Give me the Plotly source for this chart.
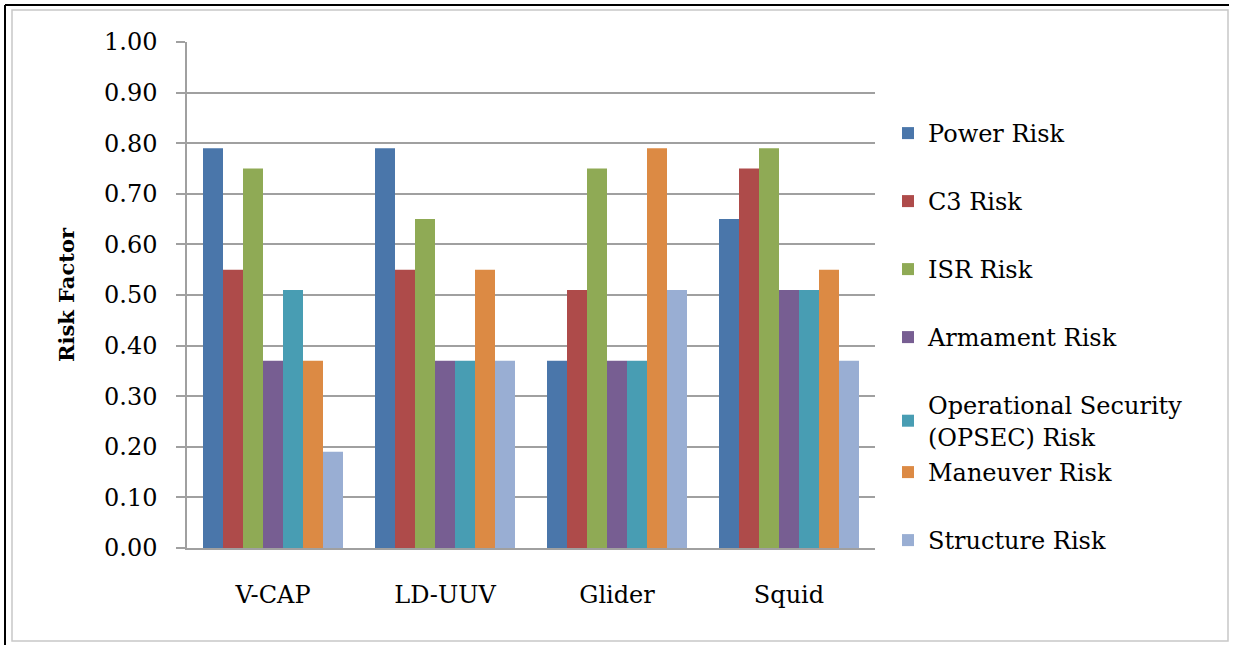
import plotly.graph_objects as go

# vehicles compared and the risk factor of each category
vehicles = ["V-CAP", "LD-UUV", "Glider", "Squid"]
power_risk = [0.79, 0.79, 0.37, 0.65]
c3_risk = [0.55, 0.55, 0.51, 0.75]
isr_risk = [0.75, 0.65, 0.75, 0.79]
armament_risk = [0.37, 0.37, 0.37, 0.51]
opsec_risk = [0.51, 0.37, 0.37, 0.51]
maneuver_risk = [0.37, 0.55, 0.79, 0.55]
structure_risk = [0.19, 0.37, 0.51, 0.37]

y_ticks = [0.0, 0.1, 0.2, 0.3, 0.4, 0.5, 0.6, 0.7, 0.8, 0.9, 1.0]

series = [
    ("Power Risk", power_risk, "#4A76AA"),
    ("C3 Risk", c3_risk, "#AE4B4A"),
    ("ISR Risk", isr_risk, "#8FAA55"),
    ("Armament Risk", armament_risk, "#775E92"),
    ("Operational Security<br>(OPSEC) Risk", opsec_risk, "#489DB3"),
    ("Maneuver Risk", maneuver_risk, "#DC8A44"),
    ("Structure Risk", structure_risk, "#99AED3"),
]
# legend rows (pixel centre of the first text line), Excel-style spacing
legend_rows = [133, 201, 269, 337, 405, 472, 540]

FONT = "DejaVu Serif"

# plot area in pixels: x 187..875, y 42..548
L, R, T, B = 187, 875, 42, 548
W, H = 1233, 645
px = lambda x: (x - L) / (R - L)
py = lambda y: (B - y) / (B - T)

fig = go.Figure()
legends = {}
for i, (name, vals, col) in enumerate(series):
    key = "legend" if i == 0 else f"legend{i + 1}"
    fig.add_trace(go.Bar(x=vehicles, y=vals, name=name, marker_color=col,
                         marker_line_width=0, legend=key))
    legends[key] = dict(x=px(888), xanchor="left", y=py(legend_rows[i] - 22), yanchor="top",
                        font=dict(family=FONT, size=24), itemwidth=30,
                        bgcolor="rgba(0,0,0,0)")

shapes = [
    # light grey inner frame
    dict(type="rect", xref="paper", yref="paper", x0=px(12), x1=px(1228), y0=py(641), y1=py(10),
         line=dict(color="#C8C8C8", width=1.5)),
    # dark top / left border
    dict(type="line", xref="paper", yref="paper", x0=px(5), x1=px(1229), y0=py(5), y1=py(5),
         line=dict(color="black", width=2)),
    dict(type="line", xref="paper", yref="paper", x0=px(5), x1=px(5), y0=py(5), y1=py(645),
         line=dict(color="black", width=2)),
]

fig.update_layout(
    width=W, height=H,
    margin=dict(l=L, r=W - R, t=T, b=H - B),
    paper_bgcolor="white", plot_bgcolor="white",
    barmode="group", bargap=0.186, bargroupgap=0,
    font=dict(family=FONT, size=24, color="black"),
    showlegend=True,
    shapes=shapes,
    **legends,
)
fig.update_xaxes(showline=True, linecolor="#A0A0A0", linewidth=1.5, ticks="",
                 showgrid=False, tickfont=dict(size=24), ticklabelstandoff=24)
fig.update_yaxes(range=[0, 1], tickvals=y_ticks, tickformat=".2f",
                 showline=True, linecolor="#A0A0A0", linewidth=1.5,
                 ticks="outside", ticklen=9, tickcolor="#A0A0A0", tickwidth=1.5,
                 showgrid=True, gridcolor="#A0A0A0", gridwidth=1.5, zeroline=False,
                 tickfont=dict(size=24), ticklabelstandoff=14,
                 title=dict(text="<b>Risk Factor</b>", font=dict(size=21), standoff=24))

# page has a default 8px body margin; drop it so the figure fills the window
fig.write_html("out.html", config={"displayModeBar": False},
               post_script="document.body.style.margin='0';")
